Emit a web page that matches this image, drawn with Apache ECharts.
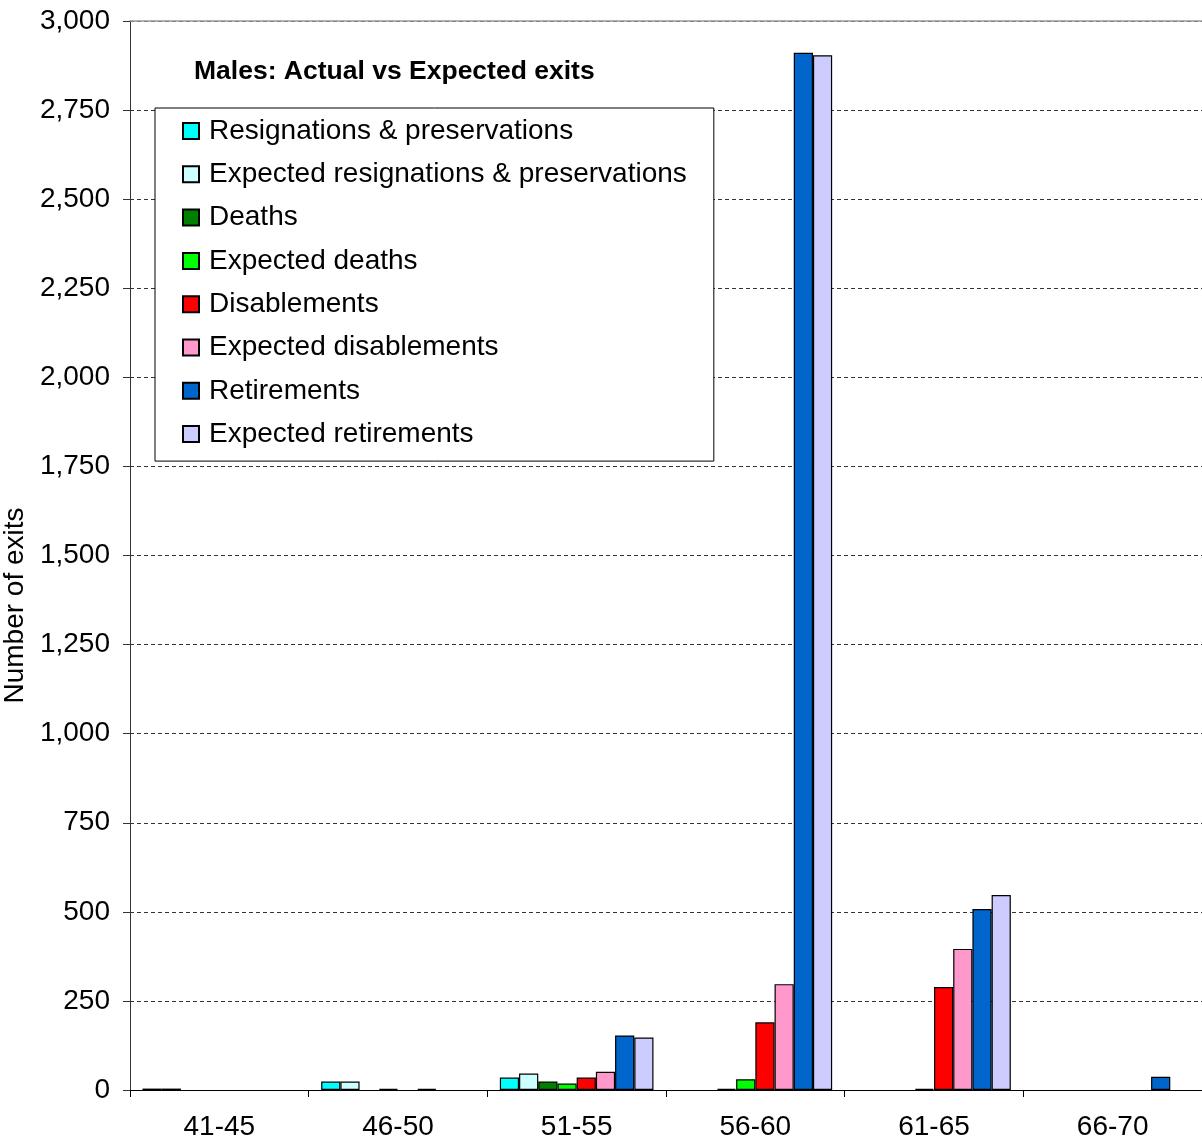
<!DOCTYPE html>
<html>
<head>
<meta charset="utf-8">
<title>Males: Actual vs Expected exits</title>
<script src="https://cdn.jsdelivr.net/npm/echarts@6/dist/echarts.min.js"></script>
<style>
  html, body { margin: 0; padding: 0; background: #fff; }
  #chart { width: 1202px; height: 1144px; }
</style>
</head>
<body>
<div id="chart"></div>
<script>
// Age bands
const ageBands = ['41-45', '46-50', '51-55', '56-60', '61-65', '66-70'];

// Number of exits per age band
const resignations         = [4, 24, 35, 0, 0, 0];
const expectedResignations = [4, 24, 46, 0, 0, 0];
const deaths               = [0, 0, 24, 3, 0, 0];
const expectedDeaths       = [0, 3, 18, 30, 3, 0];
const disablements         = [0, 0, 35, 190, 289, 0];
const expectedDisablements = [0, 3, 51, 297, 396, 0];
const retirements          = [0, 0, 153, 2911, 508, 37];
const expectedRetirements  = [0, 0, 147, 2904, 547, 0];

const seriesNames = [
  'Resignations & preservations',
  'Expected resignations & preservations',
  'Deaths',
  'Expected deaths',
  'Disablements',
  'Expected disablements',
  'Retirements',
  'Expected retirements'
];
const seriesValues = [
  resignations, expectedResignations, deaths, expectedDeaths,
  disablements, expectedDisablements, retirements, expectedRetirements
];
const seriesColors = ['#00FFFF', '#CCFFFF', '#008000', '#00FF00',
                      '#FF0000', '#FF99CC', '#0066CC', '#CCCCFF'];

const FONT = "'Liberation Sans', Arial, sans-serif";

const chart = echarts.init(document.getElementById('chart'), null, { renderer: 'canvas' });

chart.setOption({
  animation: false,
  backgroundColor: '#ffffff',
  textStyle: { fontFamily: FONT, color: '#000' },
  title: {
    text: 'Males: Actual vs Expected exits',
    left: 194,
    top: 59,
    padding: 0,
    textStyle: { fontFamily: FONT, fontSize: 26.5, lineHeight: 26, fontWeight: 'bold', color: '#000' }
  },
  legend: {
    orient: 'vertical',
    left: 155,
    top: 108,
    padding: [9, 27, 13, 27],
    itemGap: 15.3,
    itemWidth: 16,
    itemHeight: 16,
    backgroundColor: '#ffffff',
    borderColor: '#000',
    borderWidth: 1,
    borderRadius: 0,
    icon: 'rect',
    textStyle: { fontFamily: FONT, fontSize: 28, lineHeight: 28, color: '#000', padding: [0, 0, 0, 5] },
    data: seriesNames
  },
  grid: { left: 130, right: 0, top: 21, bottom: 54, containLabel: false, outerBoundsMode: 'none' },
  xAxis: [{
    type: 'category',
    data: ageBands,
    axisLine: { lineStyle: { color: '#000', width: 1 } },
    axisTick: { show: true, length: 7, lineStyle: { color: '#000' } },
    axisLabel: { fontFamily: FONT, fontSize: 28, color: '#000', margin: 23 },
    splitLine: { show: false }
  }, {
    type: 'category',
    data: ageBands,
    position: 'top',
    axisLine: { lineStyle: { color: '#999', width: 1.5 } },
    axisTick: { show: false },
    axisLabel: { show: false }
  }],
  yAxis: {
    type: 'value',
    min: 0,
    max: 3000,
    interval: 250,
    name: 'Number of exits',
    nameLocation: 'middle',
    nameGap: 93,
    nameTextStyle: { fontFamily: FONT, fontSize: 28, color: '#000', padding: [0, 100, 0, 0] },
    axisLine: { show: true, lineStyle: { color: '#333', width: 1 } },
    axisTick: { show: true, length: 7, lineStyle: { color: '#333' } },
    axisLabel: {
      fontFamily: FONT, fontSize: 28, color: '#000', margin: 20,
      formatter: v => v.toLocaleString('en-US')
    },
    splitLine: { show: true, lineStyle: { color: '#000', type: [4, 3], width: 0.8 } }
  },
  series: seriesNames.map((name, i) => ({
    name: name,
    type: 'bar',
    xAxisIndex: 0,
    barGap: '0%',
    barCategoryGap: '14%',
    itemStyle: { color: seriesColors[i], borderColor: '#000', borderWidth: 1.2 },
    emphasis: { disabled: true },
    data: seriesValues[i].map(v => (v === 0 ? null : v))
  }))
});
</script>
</body>
</html>
